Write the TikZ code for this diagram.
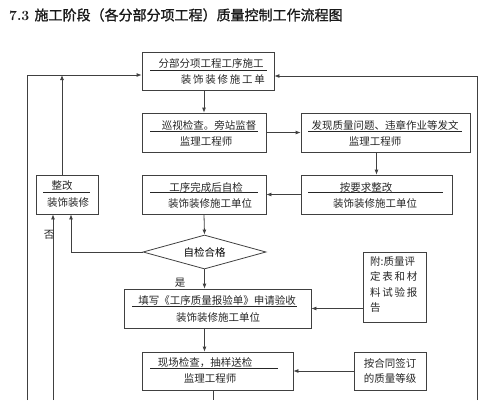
\documentclass[tikz,border=0pt]{standalone}
\usepackage{fontspec}
\usepackage{tikz}
\usetikzlibrary{arrows.meta,shapes.geometric}
\newfontfamily\cjk{Noto Sans CJK SC}
\newfontfamily\cjktitle[FakeBold=1.2]{Noto Sans CJK SC}

\begin{document}
\begin{tikzpicture}[x=1pt,y=-1pt,
    font=\cjk\fontsize{10.5pt}{12pt}\selectfont,
    box/.style={draw=black!75, line width=0.8pt, inner sep=0pt},
    lbl/.style={inner sep=0pt, text=black!85},
    arr/.style={-{Latex[length=5pt,width=4pt]}, draw=black!75, line width=0.8pt},
    uline/.style={draw=black!85, line width=0.6pt}]
    \useasboundingbox (0,0) rectangle (482,400);

    % Title
    \node[lbl, anchor=west, text=black!90] (title) at (9,15)
        {\cjktitle\fontsize{14pt}{16pt}\selectfont{\rmfamily\bfseries 7.3 }施工阶段（各分部分项工程）质量控制工作流程图};

    % Boxes
    \node[box, minimum width=132pt, minimum height=38pt] (b1) at (208,71) {};
    \node[box, minimum width=124pt, minimum height=39pt] (b2) at (204,132.5) {};
    \node[box, minimum width=169pt, minimum height=39pt] (b3) at (385.5,132.5) {};
    \node[box, minimum width=151pt, minimum height=39pt] (b4) at (376.5,194.5) {};
    \node[box, minimum width=124pt, minimum height=39pt] (b5) at (204,194.5) {};
    \node[box, minimum width=62pt, minimum height=39pt] (b6) at (67,194.5) {};
    \node[box, diamond, aspect=3.6, minimum width=123pt, minimum height=34pt] (chk) at (204.5,252) {自检合格};
    \node[box, minimum width=187pt, minimum height=39pt] (b7) at (217.5,308.5) {};
    \node[box, minimum width=63pt, minimum height=70pt] (att) at (394.5,287) {};
    \node[box, minimum width=151pt, minimum height=38pt] (b8) at (217.5,371) {};
    \node[box, minimum width=72pt, minimum height=38pt] (b9) at (390,371) {};

    % Box texts
    \node[lbl] (b1a) at (211,63) {分部分项工程工序施工};
    \node[lbl, anchor=east] (b1b) at (265,80) {装\,饰\,装\,修\,施\,工\,单};
    \draw[uline] (150,70) -- (267,70);
    \node[lbl] (b2a) at (209,125) {巡视检查。旁站监督};
    \node[lbl] (b2b) at (206,141.5) {监理工程师};
    \draw[uline] (150,131) -- (258,131);
    \node[lbl] (b3a) at (385,125) {发现质量问题、违章作业等发文};
    \node[lbl] (b3b) at (375,141.5) {监理工程师};
    \draw[uline] (308,131) -- (462,131);
    \node[lbl] (b4a) at (366,187) {按要求整改};
    \node[lbl] (b4b) at (375,203.5) {装饰装修施工单位};
    \draw[uline] (308,192) -- (443,192);
    \node[lbl] (b5a) at (206,187) {工序完成后自检};
    \node[lbl] (b5b) at (210,203.5) {装饰装修施工单位};
    \draw[uline] (150,192) -- (258,192);
    \node[lbl] (b6a) at (62,186) {整改};
    \node[lbl] (b6b) at (68,202.5) {装饰装修};
    \draw[uline] (43,192) -- (90,192);
    \node[lbl] (b7a) at (217,300) {填写《工序质量报验单》申请验收};
    \node[lbl] (b7b) at (218,317.5) {装饰装修施工单位};
    \draw[uline] (132,306) -- (297,306);
    \node[lbl, anchor=north west, align=left, font=\cjk\fontsize{10.5pt}{15.5pt}\selectfont] (atta) at (370,256)
        {附:质量评\\定\,表\,和\,材\\料\,试\,验\,报\\告};
    \node[lbl] (b8a) at (205,363) {现场检查，抽样送检};
    \node[lbl] (b8b) at (210,379) {监理工程师};
    \draw[uline] (150,368) -- (278,368);
    \node[lbl, align=center, font=\cjk\fontsize{10.5pt}{15pt}\selectfont] (b9a) at (390,371)
        {按合同签订\\的质量等级};

    % Free ends
    \coordinate (ltop) at (27,75);
    \coordinate (lbot) at (27,400);
    \coordinate (rtop) at (477,76);
    \coordinate (rbot) at (477,400);
    \coordinate (up6) at (62,75);
    \coordinate (nbot) at (53,400);
    \coordinate (bot8) at (213,400);

    % Connectors
    \draw[arr] (b1.south -| b2.north) -- (b2.north);
    \draw[arr] (b2.east) -- (b3.west);
    \draw[arr] (b3.south -| b4.north) -- (b4.north);
    \draw[arr] (b4.west) -- (b5.east);
    \draw[arr] (b5.south) -- (chk.north);
    \draw[arr] (chk.west) -| ([xshift=4pt]b6.south);
    \draw[arr] (chk.south) -- (chk.south |- b7.north);
    \node[lbl] (yes) at (180,283) {是};
    \draw[arr] (att.west |- b7.east) -- (b7.east);
    \draw[arr] (b7.south -| chk.south) -- (b8.north -| chk.south);
    \draw[arr] (b9.west) -- (b8.east);
    \draw[draw=black!75, line width=0.8pt] (b8.south -| bot8) -- (bot8);
    \draw[arr] (lbot) -- (ltop) -- (b1.west |- ltop);
    \draw[arr] (rbot) -- (rtop) -- (b1.east |- rtop);
    \draw[arr] (b6.north -| up6) -- (up6);
    \draw[arr] (nbot) -- (b6.south -| nbot);
    \node[lbl] (no) at (49,235) {否};
\end{tikzpicture}
\end{document}
